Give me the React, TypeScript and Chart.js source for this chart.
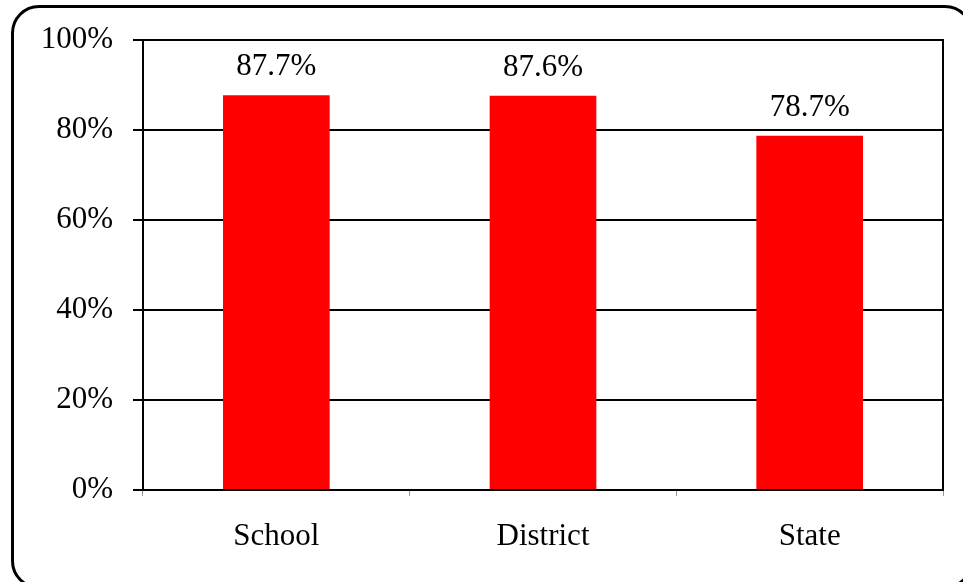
import React, { useEffect, useRef } from "react";
import { Chart, registerables } from "chart.js";

Chart.register(...registerables);

const categories = ["School", "District", "State"];
const values = [87.7, 87.6, 78.7];
const valueLabels = ["87.7%", "87.6%", "78.7%"];
const yTicks = [0, 20, 40, 60, 80, 100];

const FONT = "'Liberation Serif', 'Times New Roman', serif";

const valueLabelPlugin = {
  id: "valueLabels",
  afterDatasetsDraw(chart: any) {
    const ctx = chart.ctx;
    const meta = chart.getDatasetMeta(0);
    ctx.save();
    ctx.font = `31px ${FONT}`;
    ctx.fillStyle = "#000";
    ctx.textAlign = "center";
    ctx.textBaseline = "alphabetic";
    meta.data.forEach((bar: any, i: number) => {
      ctx.fillText(valueLabels[i], bar.x, bar.y - 20);
    });
    ctx.restore();
  },
};

const rightBorderPlugin = {
  id: "rightBorder",
  afterDraw(chart: any) {
    const { ctx, chartArea } = chart;
    ctx.save();
    ctx.strokeStyle = "#000";
    ctx.lineWidth = 2;
    ctx.beginPath();
    ctx.moveTo(chartArea.right, chartArea.top - 1);
    ctx.lineTo(chartArea.right, chartArea.bottom + 1);
    ctx.stroke();
    ctx.restore();
  },
};

export default function App() {
  const canvasRef = useRef<HTMLCanvasElement | null>(null);

  useEffect(() => {
    if (!canvasRef.current) return;
    const chart = new Chart(canvasRef.current, {
      type: "bar",
      data: {
        labels: categories,
        datasets: [
          {
            data: values,
            backgroundColor: "#FF0000",
            borderWidth: 0,
            barPercentage: 0.4,
            categoryPercentage: 1,
          },
        ],
      },
      options: {
        animation: false,
        responsive: true,
        maintainAspectRatio: false,
        layout: { padding: { top: 40, right: 20, left: 0, bottom: 0 } },
        plugins: {
          legend: { display: false },
          tooltip: { enabled: false },
        },
        scales: {
          x: {
            grid: {
              drawOnChartArea: false,
              drawTicks: true,
              tickLength: 6,
              color: "#999",
              lineWidth: 1,
              offset: true,
            },
            border: { display: true, color: "#000", width: 2 },
            ticks: {
              color: "#000",
              font: { family: FONT, size: 31 },
              padding: 22,
              maxRotation: 0,
            },
            afterFit(scale: any) {
              scale.height = 92;
            },
          },
          y: {
            min: 0,
            max: 100,
            afterBuildTicks(scale: any) {
              scale.ticks = yTicks.map((v) => ({ value: v }));
            },
            grid: {
              color: "#000",
              lineWidth: 2,
              drawTicks: true,
              tickLength: 10,
            },
            border: { display: true, color: "#000", width: 2 },
            ticks: {
              color: "#000",
              font: { family: FONT, size: 31 },
              padding: 20,
              callback: (v: any) => `${v}%`,
            },
            afterFit(scale: any) {
              scale.width = 143;
            },
          },
        },
      },
      plugins: [valueLabelPlugin, rightBorderPlugin],
    });
    return () => chart.destroy();
  }, []);

  return (
    <div
      style={{
        position: "fixed",
        left: 0,
        top: 0,
        width: 963,
        height: 582,
        background: "#fff",
        overflow: "hidden",
      }}
    >
      <canvas ref={canvasRef} />
      <div
        style={{
          position: "absolute",
          left: 11,
          top: 5,
          width: 962,
          height: 584,
          boxSizing: "border-box",
          border: "3px solid #000",
          borderRadius: 28,
          pointerEvents: "none",
        }}
      />
    </div>
  );
}
